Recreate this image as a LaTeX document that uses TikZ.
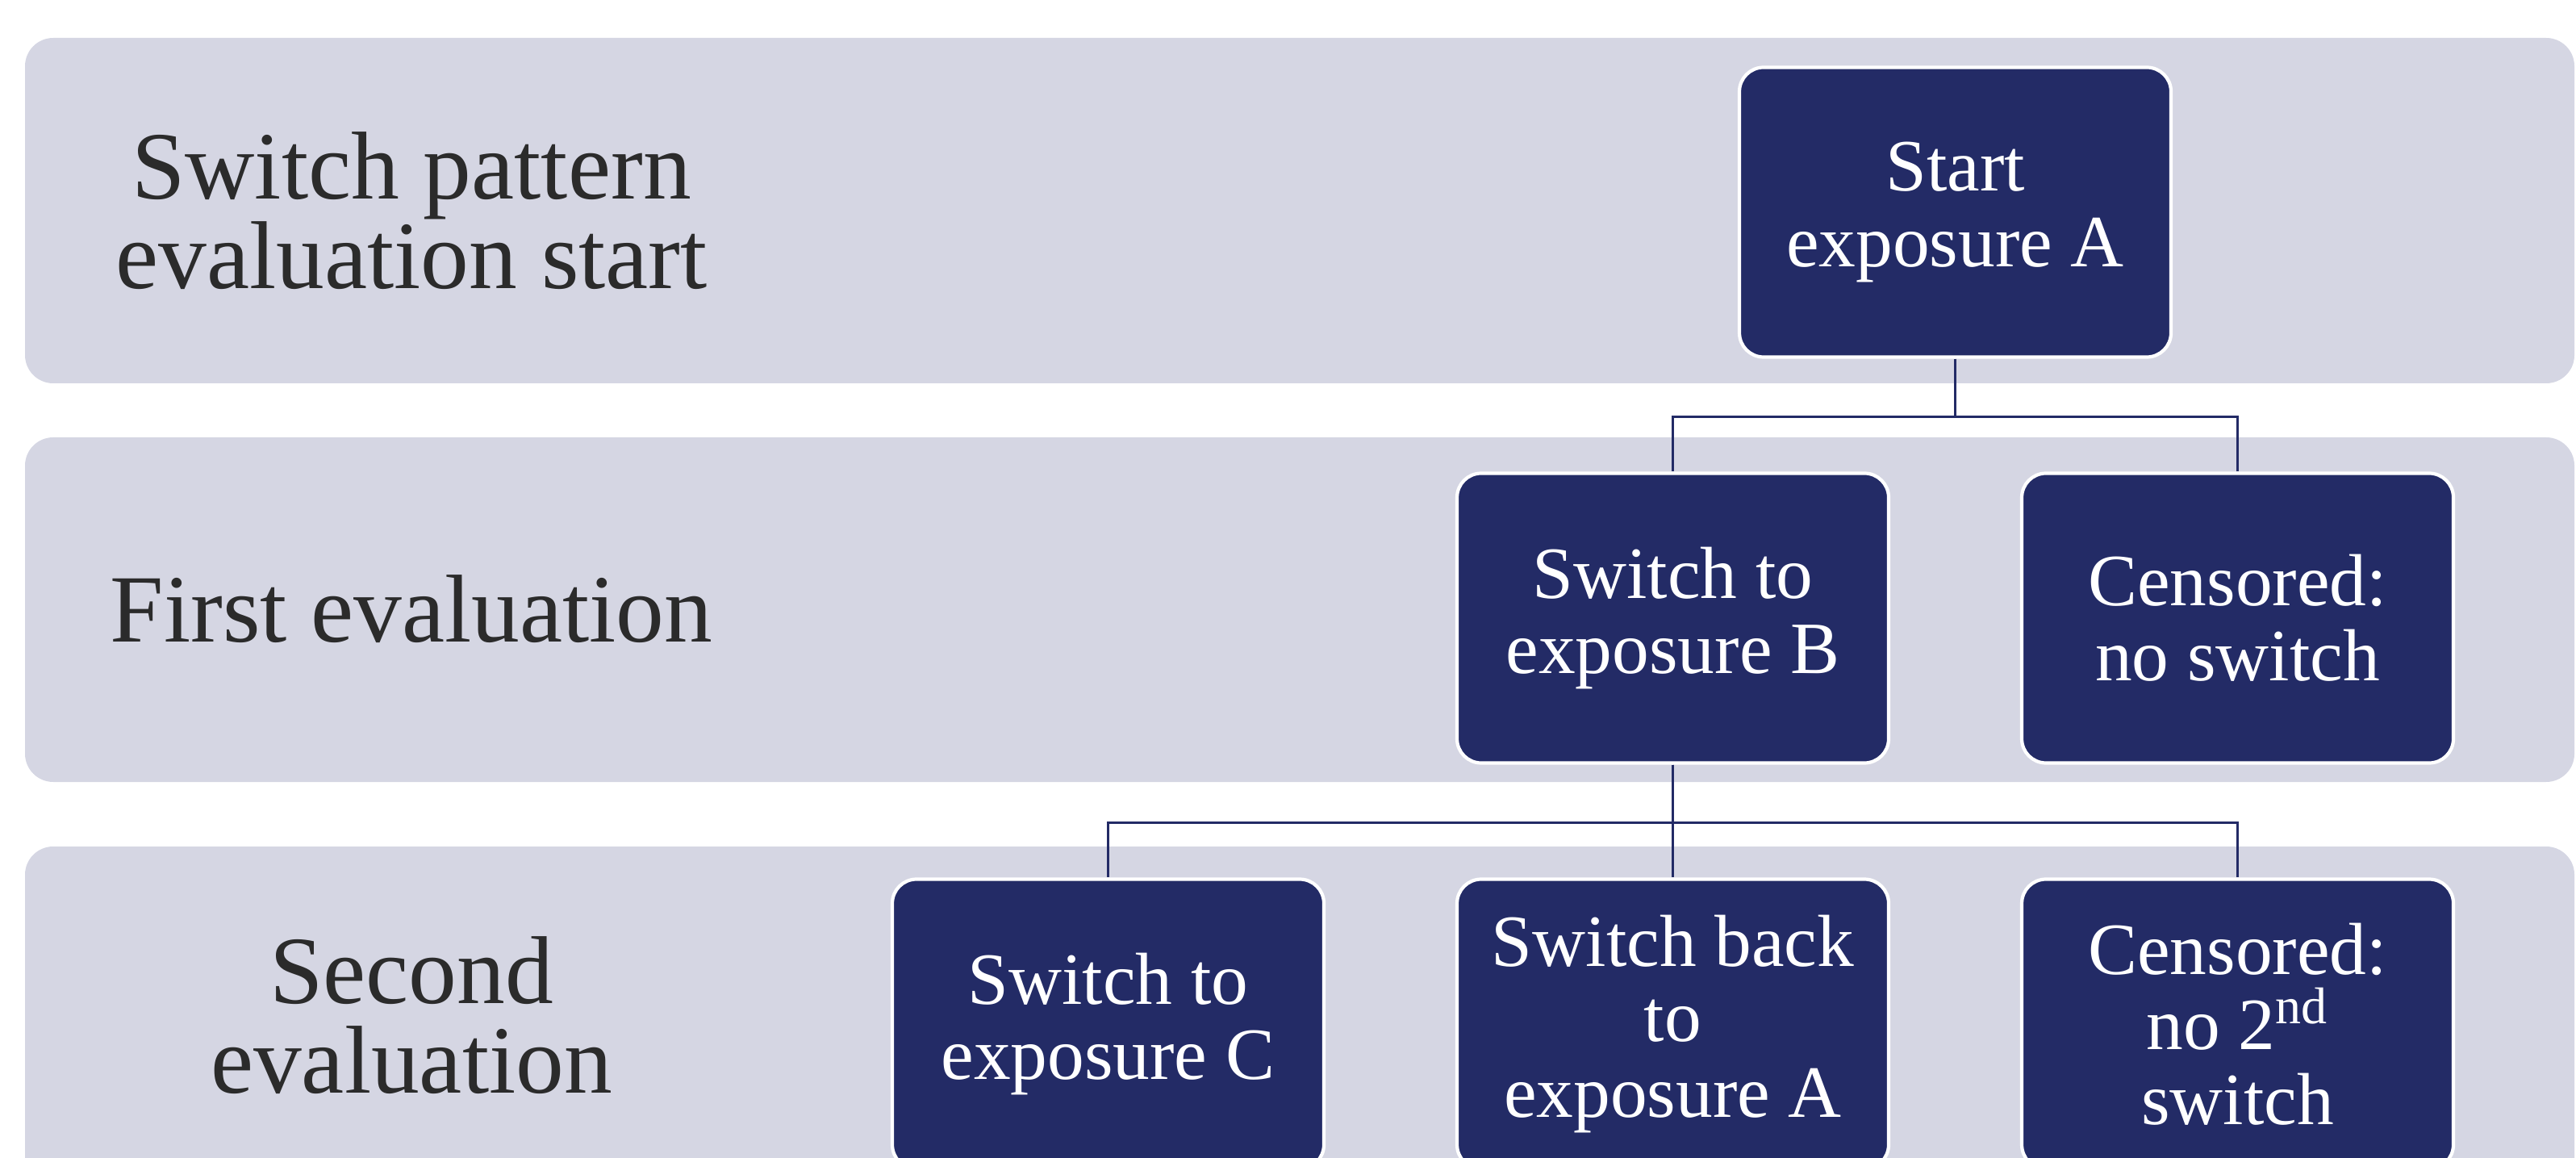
\documentclass[tikz,border=0pt]{standalone}
\usepackage{fontspec}
\setmainfont{Liberation Serif}
\usetikzlibrary{positioning}
\definecolor{bandgray}{RGB}{213,214,227}
\definecolor{boxnavy}{RGB}{35,43,102}
\definecolor{labelgray}{RGB}{43,43,43}

\begin{document}
\begin{tikzpicture}[band/.style={fill=bandgray, rounded corners=0.35cm},
                    phase/.style={align=center, text=labelgray, font=\fontsize{34}{31.5}\selectfont},
                    evalbox/.style={draw=white, line width=1.2pt, fill=boxnavy, text=white,
                        rounded corners=0.3cm, minimum width=5.35cm, minimum height=3.59cm,
                        align=center, font=\fontsize{26}{26.5}\selectfont},
                    edge from parent/.style={draw=boxnavy, line width=0.8pt},
                    edge from parent path={(\tikzparentnode.south) -- ++(0,-0.72) -| (\tikzchildnode.north)},
                    sibling distance=7cm,
                    level distance=5.03cm]
    \useasboundingbox (0,0) rectangle (31.93,14.34);
    \clip (0,0) rectangle (31.93,14.34);
    % bands
    \fill[band] (0.31,13.87) rectangle (31.91,9.59);
    \fill[band] (0.31,8.92) rectangle (31.91,4.65);
    \fill[band] (0.31,3.85) rectangle (31.91,-0.5);
    % phase labels
    \node[phase] (lab1) at (5.10,11.73) {Switch pattern\\evaluation start};
    \node[phase] (lab2) at (5.10,6.79) {First evaluation};
    \node[phase] (lab3) at (5.10,1.76) {Second\\evaluation};
    % tree
    \node[evalbox] (start) at (24.235,11.71) {Start\\exposure A}
        child { node[evalbox] (swb) {Switch to\\exposure B}
            child { node[evalbox] (swc) {Switch to\\exposure C} }
            child { node[evalbox] (back) {Switch back\\to\\exposure A} }
            child { node[evalbox] (cens2) {Censored:\\no 2\textsuperscript{nd}\\switch} }
        }
        child { node[evalbox] (cens1) {Censored:\\no switch} };
\end{tikzpicture}
\end{document}
